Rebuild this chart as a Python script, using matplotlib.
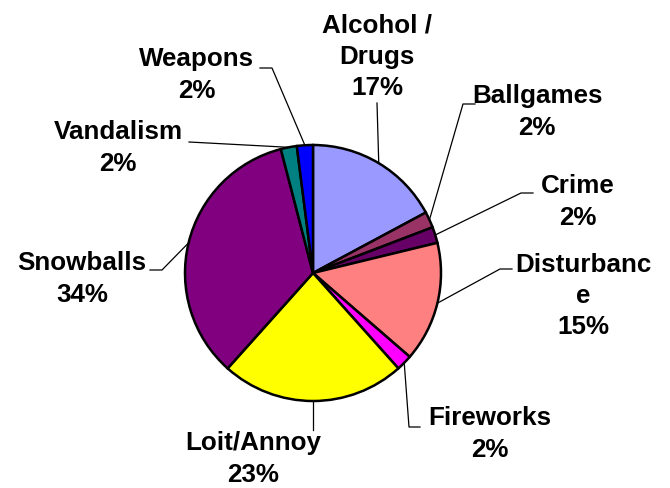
#!/usr/bin/env python3
"""
Pie chart of incident categories (Excel-style, leader lines to labels).
"""

import numpy as np
import matplotlib
matplotlib.use('Agg')
import matplotlib.pyplot as plt

categories = ['Alcohol /\nDrugs', 'Ballgames', 'Crime', 'Disturbanc\ne',
              'Fireworks', 'Loit/Annoy', 'Snowballs', 'Vandalism', 'Weapons']
percents = [17, 2, 2, 15, 2, 23, 34, 2, 2]
colors = ['#9999FF', '#993366', '#660066', '#FF8080', '#FF00FF',
          '#FFFF00', '#800080', '#008080', '#0000FF']

# label block centres and leader elbows, in pixel coords (y from top)
label_pos = [(377, 57), (537, 112), (578, 202), (583, 296), (490, 434),
             (253, 459), (82, 279), (118, 148), (197, 75)]
elbows = [None, [(475, 104), (463, 104)], [(533, 193), (521, 193)],
          [(512, 269), (500, 269)], [(420, 427), (409, 427)], None,
          [(150, 270), (162, 270)], [(189, 142)], [(260, 68), (272, 68)]]
text_end = [(377, 103), None, None, None, None, (313, 430), None, None, None]

W, H = 670, 488
center = (313, H - 273)
radius = 128

fig = plt.figure(figsize=(6.7, 4.88), dpi=100)
ax = fig.add_axes([0, 0, 1, 1])
ax.set_xlim(0, W)
ax.set_ylim(0, H)
ax.axis('off')

wedges, _ = ax.pie(percents, colors=colors, startangle=90, counterclock=False,
                   center=center, radius=radius,
                   wedgeprops=dict(edgecolor='black', linewidth=1.8))
ax.set_xlim(0, W)
ax.set_ylim(0, H)

for i, w in enumerate(wedges):
    pct = percents[i]
    lx, ly = label_pos[i]
    ax.text(lx, H - ly, f'{categories[i]}\n{pct}%', ha='center', va='center',
            fontsize=18.7, fontweight='bold', family='Liberation Sans',
            linespacing=1.38)

    # leader line from the wedge's mid-angle on the rim
    mid = np.deg2rad((w.theta1 + w.theta2) / 2)
    ex = center[0] + radius * np.cos(mid)
    ey = center[1] + radius * np.sin(mid)
    pts = [(ex, ey)]
    if elbows[i] is not None:
        for px, py in reversed(elbows[i]):
            pts.append((px, H - py))
    if text_end[i] is not None:
        pts = [(ex, ey), (text_end[i][0], H - text_end[i][1])]
    xs, ys = zip(*pts)
    ax.plot(xs, ys, color='black', linewidth=0.9)

plt.savefig('out.png', dpi=100)
